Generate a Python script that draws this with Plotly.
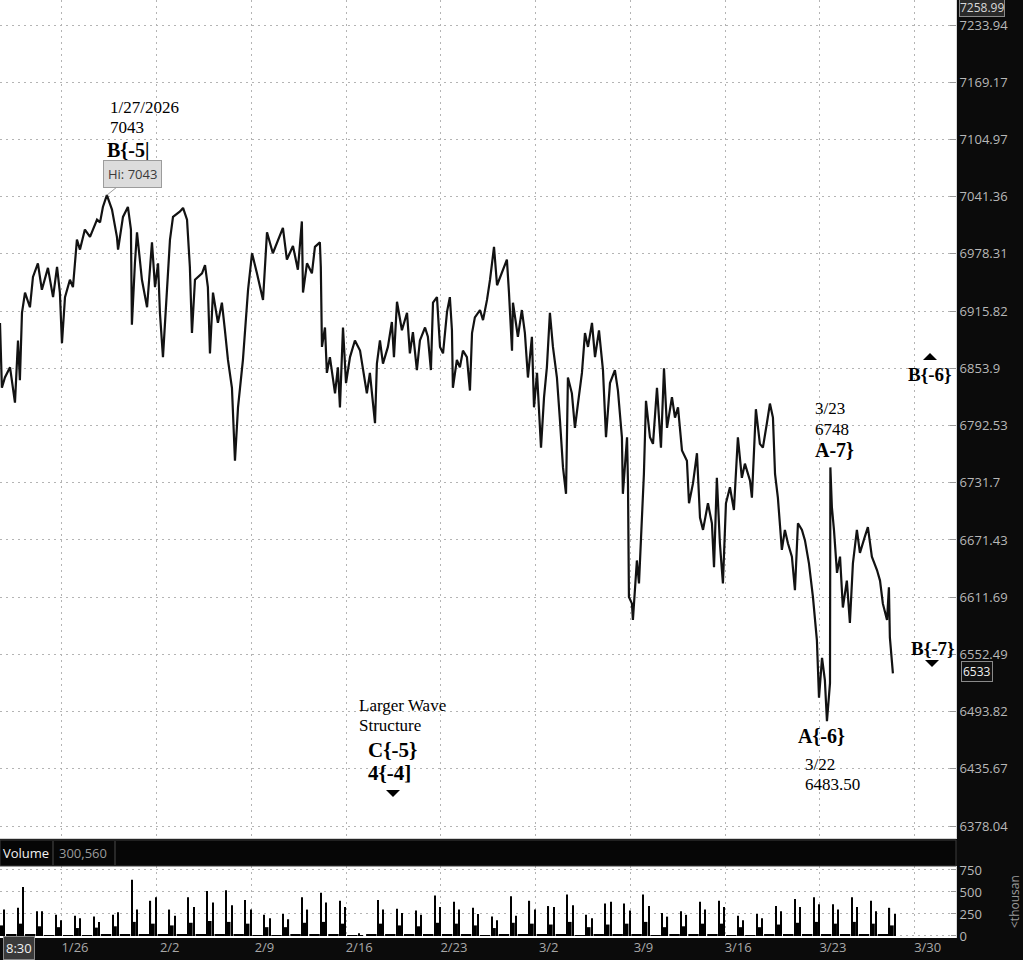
import numpy as np
import plotly.graph_objects as go

# ---------------- data ----------------
# x = trading-day index (0 = Monday 1/26, 1 unit = one session), y = price
day_pos = [
    -3.27, -3.17, -3.01, -2.74, -2.48, -2.32, -2.22, -2.11, -1.95, -1.69,
    -1.53, -1.27, -1.06, -0.74, -0.47, -0.26, -0.11, 0.00, 0.16, 0.42,
    0.58, 0.79, 0.95, 1.21, 1.48, 1.85, 2.01, 2.16, 2.37, 2.64,
    2.90, 2.96, 3.22, 3.48, 3.64, 3.69, 3.85, 3.96, 4.22, 4.49,
    4.75, 4.91, 5.07, 5.17, 5.33, 5.54, 5.70, 5.86, 6.23, 6.39,
    6.60, 6.75, 6.86, 7.02, 7.39, 7.55, 7.70, 7.81, 7.97, 8.23,
    8.44, 8.60, 8.76, 8.97, 9.13, 9.29, 9.55, 9.82, 10.03, 10.29,
    10.61, 10.82, 11.13, 11.66, 11.87, 12.19, 12.45, 12.66, 12.72, 12.93,
    13.19, 13.35, 13.61, 13.66, 13.72, 13.88, 13.98, 14.14, 14.41, 14.56,
    14.67, 14.83, 14.99, 15.20, 15.46, 15.73, 15.88, 16.09, 16.25, 16.52,
    16.62, 16.78, 16.94, 17.20, 17.41, 17.52, 17.68, 17.94, 18.21, 18.36,
    18.52, 18.73, 18.89, 19.16, 19.31, 19.47, 19.58, 19.79, 19.95, 20.11,
    20.32, 20.47, 20.58, 20.63, 20.84, 21.00, 21.16, 21.37, 21.53, 21.64,
    21.79, 22.06, 22.22, 22.43, 22.59, 22.80, 22.96, 23.22, 23.48, 23.59,
    23.75, 23.80, 24.06, 24.27, 24.43, 24.59, 24.80, 24.91, 25.07, 25.28,
    25.44, 25.59, 25.75, 25.91, 26.12, 26.28, 26.44, 26.60, 26.70, 26.91,
    27.07, 27.23, 27.44, 27.60, 27.76, 27.97, 28.13, 28.34, 28.55, 28.71,
    28.92, 29.18, 29.34, 29.55, 29.60, 29.82, 29.87, 29.92, 30.08, 30.13,
    30.34, 30.45, 30.61, 30.71, 30.82, 31.03, 31.19, 31.40, 31.61, 31.77,
    31.93, 32.19, 32.35, 32.51, 32.72, 32.98, 33.09, 33.30, 33.51, 33.67,
    33.83, 34.09, 34.30, 34.41, 34.56, 34.72, 34.88, 35.04, 35.25, 35.46,
    35.67, 35.88, 36.04, 36.31, 36.41, 36.62, 36.83, 36.99, 37.20, 37.36,
    37.52, 37.63, 37.78, 37.99, 38.15, 38.31, 38.52, 38.68, 38.84, 39.05,
    39.21, 39.42, 39.63, 39.84, 39.95, 40.11, 40.26, 40.37, 40.53, 40.55,
    40.63, 40.74, 40.90, 41.06, 41.21, 41.42, 41.58, 41.74, 41.95, 42.11,
    42.37, 42.53, 42.74, 43.01, 43.17, 43.32, 43.54, 43.64, 43.69, 43.85,
]
price = [
    6903, 6833, 6844, 6855, 6817, 6884, 6841, 6914, 6936, 6920,
    6953, 6968, 6939, 6963, 6931, 6964, 6936, 6881, 6931, 6950,
    6942, 6994, 6983, 7005, 6997, 7016, 7013, 7030, 7043, 7027,
    6997, 6983, 7019, 7030, 7005, 6901, 6968, 7002, 6950, 6920,
    6991, 6942, 6968, 6914, 6866, 6942, 6994, 7019, 7025, 7029,
    7016, 6964, 6892, 6950, 6957, 6966, 6942, 6870, 6936, 6903,
    6925, 6895, 6863, 6833, 6755, 6812, 6863, 6939, 6979, 6957,
    6928, 7002, 6979, 7007, 6972, 6987, 6961, 7014, 6936, 6968,
    6957, 6986, 6991, 6964, 6877, 6898, 6849, 6866, 6827, 6855,
    6812, 6898, 6838, 6866, 6884, 6873, 6852, 6827, 6849, 6795,
    6859, 6884, 6859, 6877, 6904, 6866, 6926, 6895, 6914, 6870,
    6893, 6852, 6884, 6898, 6888, 6852, 6925, 6931, 6877, 6870,
    6915, 6931, 6895, 6833, 6863, 6855, 6873, 6866, 6830, 6892,
    6909, 6917, 6906, 6928, 6950, 6986, 6944, 6957, 6972, 6936,
    6873, 6925, 6888, 6917, 6892, 6844, 6888, 6812, 6849, 6769,
    6823, 6855, 6914, 6877, 6844, 6798, 6748, 6720, 6844, 6827,
    6790, 6816, 6849, 6892, 6877, 6903, 6866, 6895, 6852, 6780,
    6838, 6852, 6830, 6780, 6720, 6780, 6731, 6612, 6605, 6588,
    6650, 6626, 6703, 6741, 6819, 6780, 6773, 6833, 6769, 6854,
    6790, 6823, 6801, 6812, 6766, 6755, 6710, 6731, 6763, 6695,
    6682, 6710, 6689, 6643, 6737, 6668, 6626, 6710, 6727, 6703,
    6780, 6737, 6752, 6734, 6716, 6810, 6773, 6769, 6795, 6816,
    6801, 6741, 6716, 6661, 6682, 6668, 6654, 6619, 6689, 6682,
    6671, 6647, 6612, 6567, 6508, 6549, 6526, 6484, 6523, 6748,
    6706, 6682, 6637, 6654, 6601, 6629, 6585, 6647, 6682, 6658,
    6675, 6685, 6654, 6640, 6629, 6605, 6588, 6622, 6570, 6533,
]

tick_days = [0, 5, 10, 15, 20, 25, 30, 35, 40, 45]
tick_dates = ["1/26", "2/2", "2/9", "2/16", "2/23", "3/2", "3/9", "3/16", "3/23", "3/30"]

price_ticks = [6378.04, 6435.67, 6493.82, 6552.49, 6611.69, 6671.43, 6731.7,
               6792.53, 6853.9, 6915.82, 6978.31, 7041.36, 7104.97, 7169.17, 7233.94]
price_tick_text = ["6378.04", "6435.67", "6493.82", "6552.49", "6611.69", "6671.43", "6731.7",
                   "6792.53", "6853.9", "6915.82", "6978.31", "7041.36", "7104.97", "7169.17", "7233.94"]

# volume (thousands) per session: day index, open spike, mid-session, close spike, overnight
vol_days = list(range(-4, 44))
vol_open = [420, 320, 280, 240, 230, 220, 240, 640, 400, 300,
            440, 510, 520, 410, 240, 250, 440, 490, 400, 30,
            410, 310, 290, 460, 390, 320, 220, 450, 400, 340,
            470, 240, 370, 370, 470, 260, 280, 390, 400, 230,
            250, 340, 420, 440, 360, 440, 400, 320]
vol_mid = [120, 140, 110, 100, 90, 95, 110, 160, 140, 120,
           150, 170, 160, 140, 100, 100, 150, 160, 140, 10,
           140, 120, 110, 150, 140, 120, 90, 150, 140, 130,
           160, 100, 130, 140, 160, 100, 110, 140, 140, 100,
           100, 130, 150, 160, 140, 160, 140, 120]
vol_close = [300, 556, 280, 180, 200, 160, 270, 300, 440, 230,
             330, 380, 350, 300, 200, 190, 300, 380, 330, 0,
             300, 260, 240, 330, 300, 250, 180, 230, 300, 330,
             350, 200, 390, 290, 340, 220, 240, 300, 330, 180,
             200, 280, 330, 360, 300, 330, 280, 250]
vol_night = [12, 14, 12, 10, 10, 10, 12, 16, 14, 12,
             14, 16, 16, 14, 10, 10, 14, 16, 14, 4,
             14, 12, 12, 14, 14, 12, 10, 14, 14, 12,
             16, 10, 12, 14, 16, 10, 12, 14, 14, 10,
             10, 12, 14, 16, 14, 16, 14, 12]
# time of day within a 23h session starting 17:00 CT
open_frac, mid_frac, close_frac, night_frac = 15.5 / 23, 18.3 / 23, 22.0 / 23, 7.5 / 23

hi_day, hi_price = 2.37, 7043

# ---------------- figure ----------------
W, H = 1023, 960
X_RIGHT = 956 / W
X_RANGE = [-3.27, 47.18]
GRID = "#b4b4b4"
AXIS_TXT = "#b8b8b8"
SANS = "Open Sans, Noto Sans, sans-serif"
SERIF = "Liberation Serif, Times New Roman, serif"


def pp(xp, yp):
    return xp / W, 1 - yp / H


fig = go.Figure()
fig.add_trace(go.Scatter(x=day_pos, y=price, mode="lines",
                         line=dict(color="#121212", width=2.2),
                         xaxis="x", yaxis="y", hoverinfo="skip"))
for vals, frac, wd in ((vol_night, night_frac, 0.55), (vol_mid, mid_frac, 0.2),
                       (vol_open, open_frac, 0.06), (vol_close, close_frac, 0.06)):
    fig.add_trace(go.Bar(x=[d + frac for d in vol_days], y=vals, width=wd,
                         marker=dict(color="black", line=dict(width=0)),
                         xaxis="x2", yaxis="y2", hoverinfo="skip"))

common_grid = dict(showgrid=True, gridcolor=GRID, griddash="2px,4px", gridwidth=1,
                   zeroline=False, automargin=False)
fig.update_layout(
    width=W, height=H, margin=dict(l=0, r=0, t=0, b=0, pad=0, autoexpand=False),
    paper_bgcolor="#0b0b0b", plot_bgcolor="white", showlegend=False,
    font=dict(family=SANS, color=AXIS_TXT, size=13),
    barmode="overlay",
    xaxis=dict(domain=[0, X_RIGHT], range=X_RANGE, anchor="y",
               tickvals=tick_days, showticklabels=False, ticks="",
               showline=True, linecolor="#d0d0d0", linewidth=1, **common_grid),
    yaxis=dict(domain=[1 - 838 / H, 1], type="log",
               range=[3.803875, 3.861082], anchor="x", side="right",
               tickvals=price_ticks, ticktext=price_tick_text,
               tickfont=dict(color=AXIS_TXT, size=13, family=SANS),
               ticks="inside", ticklen=6, tickcolor="#9a9a9a",
               showline=True, linecolor="#d8d8d8", linewidth=1, **common_grid),
    xaxis2=dict(domain=[0, X_RIGHT], range=X_RANGE, anchor="y2",
                tickvals=tick_days, ticktext=tick_dates,
                tickfont=dict(color="#a8a8a8", size=13, family=SANS),
                ticks="", ticklabelshift=13, showline=False, **common_grid),
    yaxis2=dict(domain=[22 / H, 94 / H], range=[-23, 795], anchor="x2", side="right",
                tickvals=[0, 250, 500, 750], ticktext=["0", "250", "500", "750"],
                tickfont=dict(color=AXIS_TXT, size=13, family=SANS),
                ticks="inside", ticklen=5, tickcolor="#9a9a9a",
                showline=True, linecolor="#d8d8d8", linewidth=1, **common_grid),
)

shapes = []
# volume header strip
x0, y0 = pp(0, 866)
x1, y1 = pp(956, 840)
shapes.append(dict(type="rect", xref="paper", yref="paper", x0=x0, x1=x1, y0=y0, y1=y1,
                   fillcolor="#060606", line=dict(color="#3c3c3c", width=1)))
for sx in (53, 115):
    a, b = pp(sx, 841)
    c, d = pp(sx, 865)
    shapes.append(dict(type="line", xref="paper", yref="paper", x0=a, x1=c, y0=b, y1=d,
                       line=dict(color="#4a4a4a", width=1)))


def tri(cx, cy, up):
    pts = [(cx - 7, cy + (3 if up else -3)), (cx + 7, cy + (3 if up else -3)),
           (cx, cy + (-4 if up else 4))]
    path = "M " + " L ".join("%f,%f" % pp(px_, py_) for px_, py_ in pts) + " Z"
    return dict(type="path", xref="paper", yref="paper", path=path,
                fillcolor="black", line=dict(color="black", width=0))


shapes += [tri(393, 793, False), tri(930, 357, True), tri(932, 663, False)]
fig.update_layout(shapes=shapes)

ann = []


def txt(s, xp, yp, size=17, bold=False, color="black", family=SERIF, anchor="left", **kw):
    x, y = pp(xp, yp)
    ann.append(dict(text=("<b>%s</b>" % s) if bold else s, x=x, y=y, xref="paper", yref="paper",
                    xanchor=anchor, yanchor="middle", showarrow=False,
                    font=dict(family=family, size=size, color=color), **kw))


txt("1/27/2026", 108, 107)
txt("7043", 108, 128)
txt("B{-5|", 105, 151, size=20, bold=True)
txt("3/23", 813, 408)
txt("6748", 813, 429)
txt("A-7}", 813, 450, size=20, bold=True)
txt("A{-6}", 796, 736, size=20, bold=True)
txt("3/22", 803, 764)
txt("6483.50", 803, 784)
txt("B{-6}", 906, 374, size=19, bold=True)
txt("B{-7}", 909, 648, size=19, bold=True)
txt("Larger Wave", 357, 705)
txt("Structure", 357, 725)
txt("C{-5}", 366, 750, size=21, bold=True)
txt("4{-4]", 366, 773, size=21, bold=True)

# header texts
txt("Volume", 1, 853, size=13, color="#f2f2f2", family=SANS)
txt("300,560", 57, 853, size=13, color="#9a9a9a", family=SANS)
txt("&lt;thousan", 1014, 902, size=12, color="#9a9a9a", family=SANS, anchor="center",
    textangle=-90)

# boxed labels on dark area
txt("6533", 961, 671, size=12, color="#f0f0f0", family=SANS,
    bgcolor="#111111", bordercolor="#8a8a8a", borderwidth=1, borderpad=1)
txt("7258.99", 959, 8, size=12, color="#d8d8d8", family=SANS,
    bgcolor="#2a2a2a", bordercolor="#8a8a8a", borderwidth=1, borderpad=0)
txt("8:30", 3, 948, size=13, color="#f0f0f0", family=SANS,
    bgcolor="#3a3a3a", bordercolor="#8a8a8a", borderwidth=1, borderpad=2)

# high callout bubble
ann.append(dict(text="Hi: 7043", x=hi_day, y=np.log10(hi_price), xref="x", yref="y",
                showarrow=True, ax=26, ay=-21, arrowhead=0, arrowwidth=1, arrowcolor="#9c9c9c",
                bgcolor="#dcdcdc", bordercolor="#9c9c9c", borderwidth=1, borderpad=4,
                font=dict(family=SANS, size=13, color="#3a3a3a")))

fig.update_layout(annotations=ann)

fig.write_html("out.html", config={"displayModeBar": False},
               post_script="document.body.style.margin='0';document.body.style.overflow='hidden';")
